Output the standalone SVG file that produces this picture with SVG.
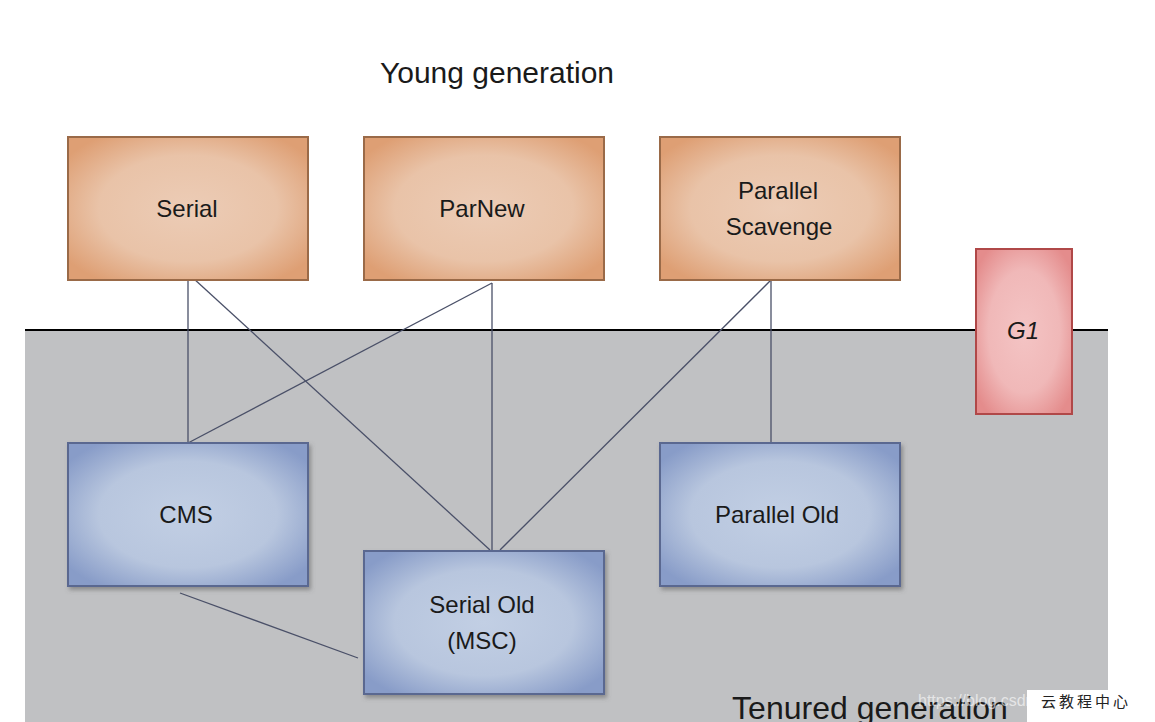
<svg xmlns="http://www.w3.org/2000/svg" width="1155" height="722" viewBox="0 0 1155 722">
<style>
.lbl{font-family:"Comic Sans MS","Liberation Sans",sans-serif;font-size:24px;fill:#1a1a1a;text-anchor:middle}
.conn line{stroke:#4a5068;stroke-width:1.3}
.young{fill:url(#gO);stroke:#9a6a48;stroke-width:2}
.old{fill:url(#gB);stroke:#5a6890;stroke-width:2;filter:url(#sh)}
.g1{fill:url(#gP);stroke:#b04848;stroke-width:2}
</style>
<defs>
<radialGradient id="gO" cx="0.5" cy="0.5" r="0.62">
<stop offset="0" stop-color="#ecccb6"/><stop offset="0.6" stop-color="#e9c3a8"/><stop offset="1" stop-color="#de9f74"/>
</radialGradient>
<radialGradient id="gB" cx="0.5" cy="0.5" r="0.62">
<stop offset="0" stop-color="#c2cfe4"/><stop offset="0.6" stop-color="#b8c6de"/><stop offset="1" stop-color="#889cc8"/>
</radialGradient>
<radialGradient id="gP" cx="0.5" cy="0.5" r="0.62">
<stop offset="0" stop-color="#f4c4c4"/><stop offset="0.6" stop-color="#f0b8b8"/><stop offset="1" stop-color="#e48c8c"/>
</radialGradient>
<filter id="sh" x="-10%" y="-10%" width="125%" height="125%">
<feDropShadow dx="2" dy="3" stdDeviation="2" flood-color="#555" flood-opacity="0.5"/>
</filter>
</defs>
<rect width="1155" height="722" fill="#ffffff"/>
<rect x="25" y="330" width="1083" height="392" fill="#c0c1c3"/>
<line x1="25" y1="330" x2="1108" y2="330" stroke="#000" stroke-width="2"/>
<text x="497" y="83" font-family="'Comic Sans MS','Liberation Sans',sans-serif" font-size="30" fill="#1a1a1a" text-anchor="middle">Young generation</text>
<text x="870" y="719" font-family="'Comic Sans MS','Liberation Sans',sans-serif" font-size="32" fill="#1a1a1a" text-anchor="middle">Tenured generation</text>
<g class="conn">
<line x1="188" y1="280" x2="188" y2="443"/>
<line x1="193" y1="278" x2="490" y2="550"/>
<line x1="492" y1="283" x2="188" y2="443"/>
<line x1="492" y1="283" x2="492" y2="550"/>
<line x1="771" y1="280" x2="500" y2="550"/>
<line x1="771" y1="280" x2="771" y2="443"/>
<line x1="180" y1="593" x2="358" y2="658"/>
</g>
<g id="serial"><rect class="young" x="68" y="137" width="240" height="143"/><text class="lbl" x="187" y="217">Serial</text></g>
<g id="parnew"><rect class="young" x="364" y="137" width="240" height="143"/><text class="lbl" x="482" y="217">ParNew</text></g>
<g id="parallel-scavenge"><rect class="young" x="660" y="137" width="240" height="143"/><text class="lbl" x="778" y="199">Parallel</text><text class="lbl" x="779" y="235">Scavenge</text></g>
<g id="g1"><rect class="g1" x="976" y="249" width="96" height="165"/><text class="lbl" x="1023" y="339" font-style="italic">G1</text></g>
<g id="cms"><rect class="old" x="68" y="443" width="240" height="143"/><text class="lbl" x="186" y="523">CMS</text></g>
<g id="serial-old"><rect class="old" x="364" y="551" width="240" height="143"/><text class="lbl" x="482" y="613">Serial Old</text><text class="lbl" x="482" y="649">(MSC)</text></g>
<g id="parallel-old"><rect class="old" x="660" y="443" width="240" height="143"/><text class="lbl" x="777" y="523">Parallel Old</text></g>
<text x="918" y="706" font-family="'Liberation Sans',sans-serif" font-size="16" fill="#ffffff" fill-opacity="0.6">https://blog.csdn</text>
<rect x="1027" y="690" width="128" height="32" fill="#ffffff"/>
<text x="1086" y="707" font-family="'Noto Sans CJK SC',sans-serif" font-size="15" fill="#222" text-anchor="middle" letter-spacing="3">云教程中心</text>
</svg>
